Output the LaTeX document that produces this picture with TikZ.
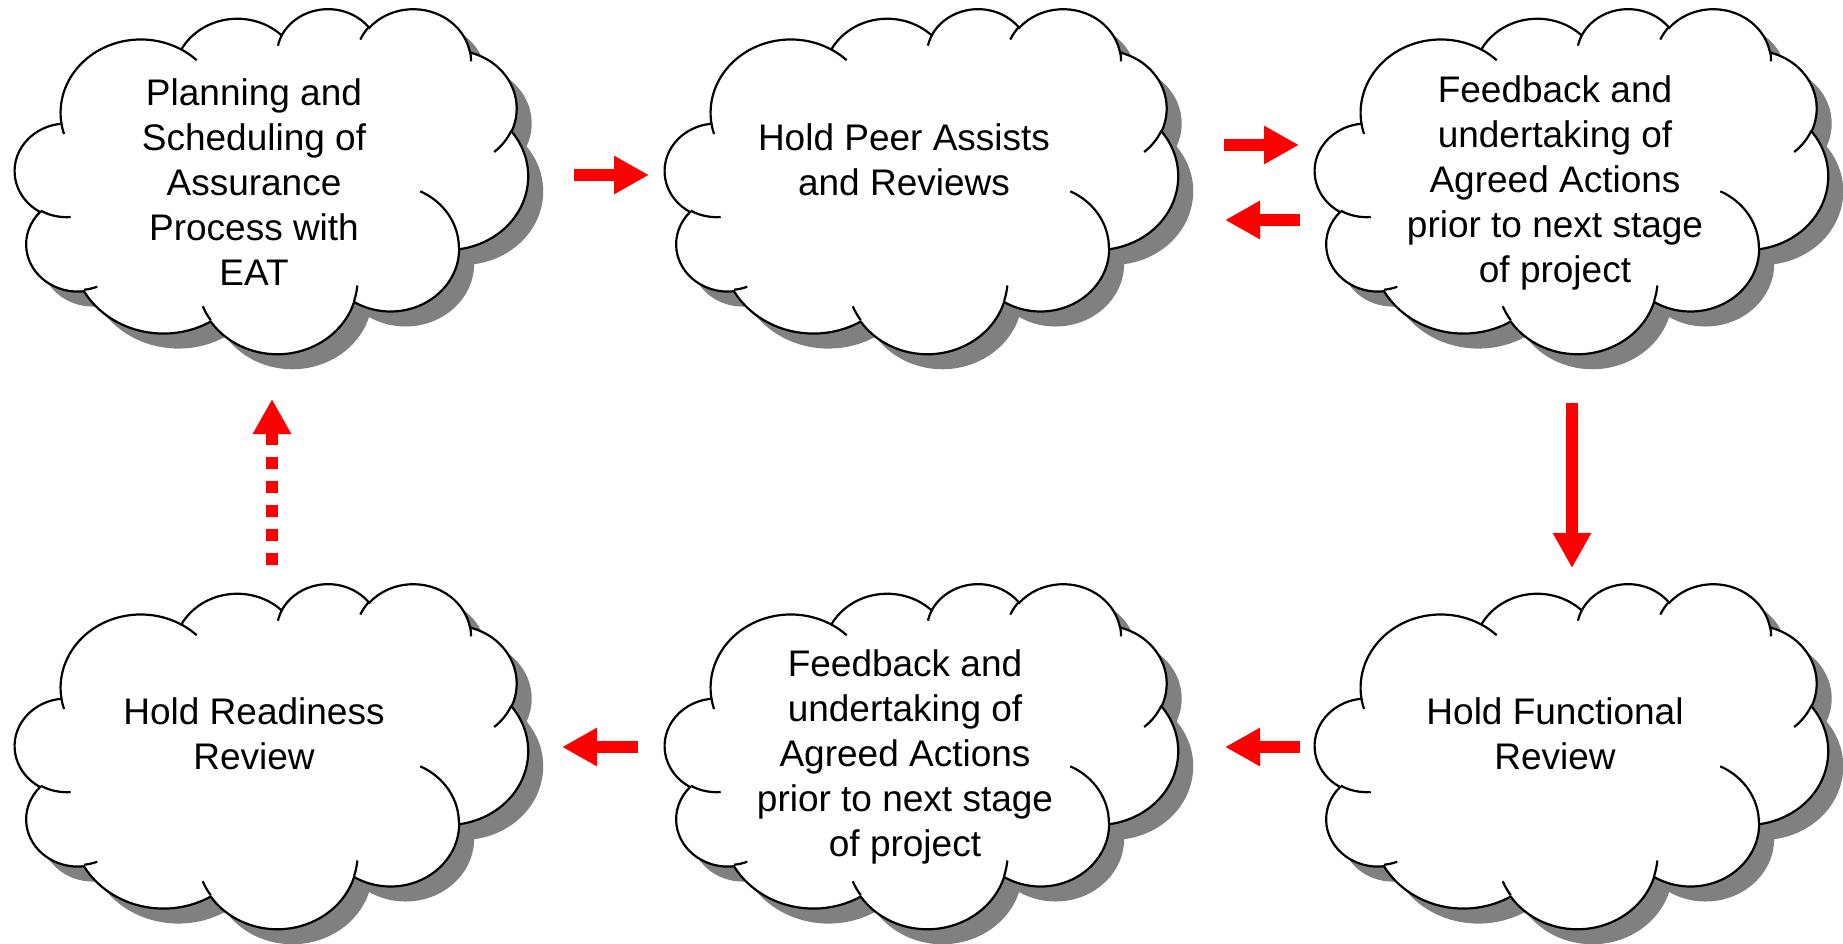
\documentclass[tikz,border=0pt]{standalone}
\usepackage{fontspec}
\setmainfont{Liberation Sans}
\usetikzlibrary{arrows.meta}

% elliptic arc given by radii, start angle and sweep, angles measured as on the ellipse
\newcommand\ooarc[4]{arc[x radius=#1, y radius=#2,
  start angle={atan2(#1*sin(#3),#2*cos(#3))},
  delta angle={mod(atan2(#1*sin(#3+#4),#2*cos(#3+#4))-atan2(#1*sin(#3),#2*cos(#3))+720,360)}]}

% cloud in a 432 x 432 box
\newcommand\cloudoutline{(39.00,143.70)
  \ooarc{67.53}{91.90}{-190.4875}{123.7805}
  \ooarc{53.33}{72.67}{-144.1024}{89.9452}
  \ooarc{43.65}{59.45}{-145.8079}{99.7230}
  \ooarc{48.57}{65.95}{-130.9861}{117.2417}
  \ooarc{53.33}{72.73}{-78.7089}{109.0269}
  \ooarc{67.75}{92.20}{-46.2673}{130.2690}
  \ooarc{57.85}{78.67}{0.6250}{114.0333}
  \ooarc{67.52}{92.15}{22.4516}{115.1726}
  \ooarc{77.20}{105.43}{66.2426}{75.7110}
  \ooarc{43.60}{59.18}{-274.9421}{146.7356}
  \ooarc{43.45}{59.45}{-246.8285}{152.5189}
  -- cycle}
\newcommand\cloudinner{
  (46.93,261.77) \ooarc{43.45}{59.45}{86.7420}{26.4295}
  (69.28,348.99) \ooarc{43.60}{59.18}{73.6105}{11.4475}
  (164.78,390.90) \ooarc{67.52}{92.15}{137.6242}{14.0811}
  (288.27,347.51) \ooarc{67.52}{92.15}{6.4533}{15.9984}
  (341.29,229.54) \ooarc{57.85}{78.67}{-70.2924}{70.9174}
  (417.98,153.54) \ooarc{53.33}{72.73}{30.3180}{27.7515}
  (383.24,54.26) \ooarc{48.57}{65.95}{-13.7443}{14.8589}
  (290.78,39.52) \ooarc{48.57}{65.95}{-149.1815}{18.1954}
  (221.41,47.20) \ooarc{43.65}{59.45}{-163.4943}{17.6864}
  (140.00,51.92) \ooarc{67.53}{91.90}{-66.7070}{12.3194}
  (41.27,157.89) \ooarc{67.53}{91.90}{157.6544}{11.8582}}

\tikzset{
  cloudshadow/.style={fill=black!50},
  cloudedge/.style={draw=black, line width=2.2pt},
  cloudtext/.style={align=center, font=\fontsize{37}{44.8}\selectfont},
  flow/.style={draw=red, line width=12pt, -{Triangle[length=35pt,width=36pt]}}
}

\begin{document}
\begin{tikzpicture}[x=1pt,y=-1pt]
\useasboundingbox (0,0) rectangle (1843,944);

\foreach \cx/\cy in {15/8,665/8,1315/8,15/583,665/583,1315/583} {
  \fill[cloudshadow, shift={(\cx+15,\cy+15)}, xscale=1.1875, yscale=0.7986] \cloudoutline;
  \filldraw[cloudedge, fill=white, shift={(\cx,\cy)}, xscale=1.1875, yscale=0.7986] \cloudoutline;
  \draw[cloudedge, shift={(\cx,\cy)}, xscale=1.1875, yscale=0.7986] \cloudinner;
}

\node[cloudtext] (plan) at (254,182) {Planning and\\Scheduling of\\Assurance\\Process with\\EAT};
\node[cloudtext] (peer) at (904,160) {Hold Peer Assists\\and Reviews};
\node[cloudtext] (feedA) at (1555,183) {Feedback and\\undertaking of\\Agreed Actions\\prior to next stage\\of project};
\node[cloudtext] (ready) at (254,734) {Hold Readiness\\Review};
\node[cloudtext] (feedB) at (905,757) {Feedback and\\undertaking of\\Agreed Actions\\prior to next stage\\of project};
\node[cloudtext] (func) at (1555,734) {Hold Functional\\Review};

\coordinate (plan-out) at (574,175);
\coordinate (peer-in) at (649,175);
\coordinate (peer-out) at (1224,145);
\coordinate (feedA-in) at (1299,145);
\coordinate (feedA-back) at (1300,220);
\coordinate (peer-back) at (1225,220);
\coordinate (feedA-out) at (1572,403);
\coordinate (func-in) at (1572,568);
\coordinate (func-out) at (1300,747);
\coordinate (feedB-in) at (1225,747);
\coordinate (feedB-out) at (638,747);
\coordinate (ready-in) at (562,747);
\coordinate (ready-out) at (272,565);
\coordinate (plan-in) at (272,399);

\draw[flow] (plan-out) -- (peer-in);
\draw[flow] (peer-out) -- (feedA-in);
\draw[flow] (feedA-back) -- (peer-back);
\draw[flow] (feedA-out) -- (func-in);
\draw[flow] (func-out) -- (feedB-in);
\draw[flow] (feedB-out) -- (ready-in);
\draw[flow, dash pattern=on 12pt off 12pt] (ready-out) -- (plan-in);
\end{tikzpicture}
\end{document}
